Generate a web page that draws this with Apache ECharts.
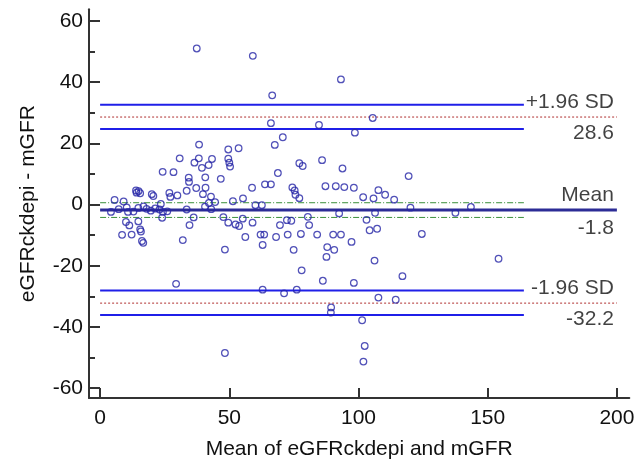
<!DOCTYPE html>
<html>
<head>
<meta charset="utf-8">
<script src="https://cdn.jsdelivr.net/npm/echarts@6/dist/echarts.min.js"></script>
<style>html,body{margin:0;padding:0;background:#fff;}#c{width:644px;height:465px;}</style>
</head>
<body>
<div id="c"></div>
<script>
// Bland-Altman data: mean of the two methods (x) and difference (y)
var meanVals = [
37.4,59.1,66.6,66.1,84.7,70.7,67.6,93.2,105.5,98.6,85.9,93.8,119.4,87.2,91.2,94.5,98.2,101.8,105.8,107.7,
110.3,113.8,120.1,137.5,143.5,30.8,24.2,28.4,38.3,38.2,36.5,39.4,42.0,43.3,40.7,46.7,49.6,53.6,49.6,50.0,
50.3,34.3,34.4,33.5,37.2,40.8,39.8,42.9,44.5,42.1,40.6,43.0,51.4,55.3,58.8,60.1,62.6,63.8,66.1,68.8,
74.4,75.3,75.6,77.1,77.1,78.4,5.6,9.1,13.9,14.9,14.1,15.5,20.0,20.6,26.8,27.2,29.9,23.5,
4.2,7.2,10.3,10.8,12.9,14.8,16.8,18.0,19.6,21.3,23.0,24.3,26.0,33.5,
24.0,36.2,34.6,10.0,11.3,14.8,15.5,15.8,8.5,12.2,16.2,16.7,32.0,29.4,47.7,49.6,52.4,53.8,55.2,59.0,
56.2,62.1,63.5,62.9,48.3,68.1,69.6,72.3,74.0,72.6,77.7,74.9,80.4,80.9,78.0,62.9,71.2,76.1,48.3,
84.0,90.2,93.2,92.5,103.1,106.4,104.3,107.2,97.3,87.9,90.6,87.6,106.2,124.5,86.2,98.2,117.0,154.2,
107.7,114.4,89.4,89.3,101.4,102.4,101.9
];
var diffVals = [
51.0,48.6,35.7,26.6,26.0,22.0,19.5,40.9,28.3,23.5,14.5,11.8,9.3,6.0,6.0,5.7,5.5,2.4,2.0,4.7,
3.2,1.6,-1.0,-2.7,-0.8,15.1,10.7,10.6,19.6,15.1,13.7,12.0,12.9,14.9,8.9,8.4,18.0,18.4,15.0,13.7,
12.4,8.8,7.4,4.5,5.4,5.5,3.4,2.6,0.8,0.5,-0.7,-1.5,1.1,2.0,5.5,-0.2,-0.2,6.6,6.6,10.3,
5.6,4.6,3.2,2.1,13.5,12.6,1.5,1.0,4.6,4.4,3.9,3.7,3.4,2.8,3.8,2.5,3.0,0.2,
-2.4,-1.5,-0.9,-2.4,-2.3,-1.1,-0.6,-1.4,-2.0,-1.3,-1.6,-2.4,-2.2,-1.6,
-4.3,-4.2,-6.7,-5.7,-6.8,-5.5,-8.1,-8.8,-9.9,-9.8,-11.9,-12.5,-11.6,-25.9,-4.1,-5.9,-6.5,-7.0,-4.6,-5.9,
-10.6,-9.8,-9.8,-13.2,-14.7,-10.6,-6.7,-5.1,-5.3,-9.8,-9.6,-14.8,-4.0,-6.7,-21.5,-27.8,-29.0,-27.8,-48.5,
-9.8,-9.8,-9.8,-2.9,-5.0,-2.7,-8.4,-7.9,-12.2,-13.9,-14.8,-17.1,-18.3,-9.6,-24.9,-25.6,-23.4,-17.7,
-30.4,-31.1,-33.6,-35.3,-37.8,-46.2,-51.3
];

// Summary statistics
var meanDiff = -1.8;
var upperLoA = 28.6;
var lowerLoA = -32.2;
var ciMean = [0.6, -4.2];
var ciUpperLoA = [32.6, 24.7];
var ciLowerLoA = [-28.1, -36.1];
var ciLineEnd = 164;
var fullLineEnd = 200;

var xTicks = [0, 50, 100, 150, 200];
var yTicks = [-60, -40, -20, 0, 20, 40, 60];
var yMinorTicks = [-50, -30, -10, 10, 30, 50];

var rightLabels = ['+1.96 SD', '28.6', 'Mean', '-1.8', '-1.96 SD', '-32.2'];
var rightLabelVals = [upperLoA, upperLoA, meanDiff, meanDiff, lowerLoA, lowerLoA];
var rightLabelOffsets = [-15, 16, -15, 18, -15, 16];

var FONT = 'Liberation Sans, Arial, sans-serif';
var AXC = '#333333';
var TXT = '#111111';

var pts = meanVals.map(function (v, i) { return [v, diffVals[i]]; });

function hline(y, x1, color, width, type) {
  return {
    type: 'line', silent: true, symbol: 'none', animation: false,
    data: [[0, y], [x1, y]],
    lineStyle: { color: color, width: width, type: type },
    z: 2
  };
}

var series = [];
ciUpperLoA.forEach(function (v) { series.push(hline(v, ciLineEnd, '#1f1fe8', 2, 'solid')); });
ciLowerLoA.forEach(function (v) { series.push(hline(v, ciLineEnd, '#1f1fe8', 2, 'solid')); });
series.push(hline(upperLoA, fullLineEnd, '#b03030', 1, [2, 2]));
series.push(hline(lowerLoA, fullLineEnd, '#b03030', 1, [2, 2]));
ciMean.forEach(function (v) { series.push(hline(v, ciLineEnd, '#3a8f3a', 1, [6, 2, 1, 2])); });
series.push(hline(meanDiff, fullLineEnd, '#2c2c96', 3, 'solid'));

series.push({
  type: 'scatter', animation: false, silent: true,
  data: pts, symbol: 'circle', symbolSize: 6.6,
  itemStyle: { color: 'rgba(0,0,0,0)', borderColor: '#2626a6', borderWidth: 1.25 },
  z: 3
});

series.push({
  type: 'scatter', animation: false, silent: true, symbolSize: 0,
  data: rightLabels.map(function (t, i) {
    return {
      value: [fullLineEnd, rightLabelVals[i]], name: t,
      label: { offset: [0, rightLabelOffsets[i]] }
    };
  }),
  label: {
    show: true, position: 'left', distance: 3,
    formatter: function (p) { return p.name; },
    color: TXT, fontSize: 21, fontFamily: FONT
  },
  z: 10
});

var chart = echarts.init(document.getElementById('c'), null, { renderer: 'canvas' });
chart.setOption({
  backgroundColor: '#ffffff',
  animation: false,
  grid: { left: 89, right: 14.7, top: 9.3, bottom: 62.7, containLabel: false },
  xAxis: {
    type: 'value', min: -4.3, max: 204.8,
    name: 'Mean of eGFRckdepi and mGFR', nameLocation: 'middle', nameGap: 41,
    nameTextStyle: { fontSize: 21, color: TXT, fontFamily: FONT },
    axisLine: { show: true, onZero: false, lineStyle: { color: AXC, width: 2 } },
    axisTick: { show: true, inside: true, length: 10, customValues: xTicks, lineStyle: { color: AXC, width: 2 } },
    axisLabel: { show: true, customValues: xTicks, fontSize: 21, color: TXT, fontFamily: FONT, margin: 10 },
    splitLine: { show: false }
  },
  yAxis: [{
    type: 'value', min: -63.2, max: 63.8,
    name: 'eGFRckdepi - mGFR', nameLocation: 'middle', nameGap: 50,
    nameTextStyle: { fontSize: 21, color: TXT, fontFamily: FONT },
    axisLine: { show: true, onZero: false, lineStyle: { color: AXC, width: 2 } },
    axisTick: { show: true, inside: true, length: 11, customValues: yTicks, lineStyle: { color: AXC, width: 2 } },
    axisLabel: { show: true, customValues: yTicks, fontSize: 21, color: TXT, fontFamily: FONT, margin: 6 },
    splitLine: { show: false }
  }, {
    type: 'value', min: -63.2, max: 63.8, position: 'left',
    axisLine: { show: false, onZero: false },
    axisTick: { show: true, inside: true, length: 6, customValues: yMinorTicks, lineStyle: { color: AXC, width: 2 } },
    axisLabel: { show: false },
    splitLine: { show: false }
  }],
  series: series
});
</script>
</body>
</html>
